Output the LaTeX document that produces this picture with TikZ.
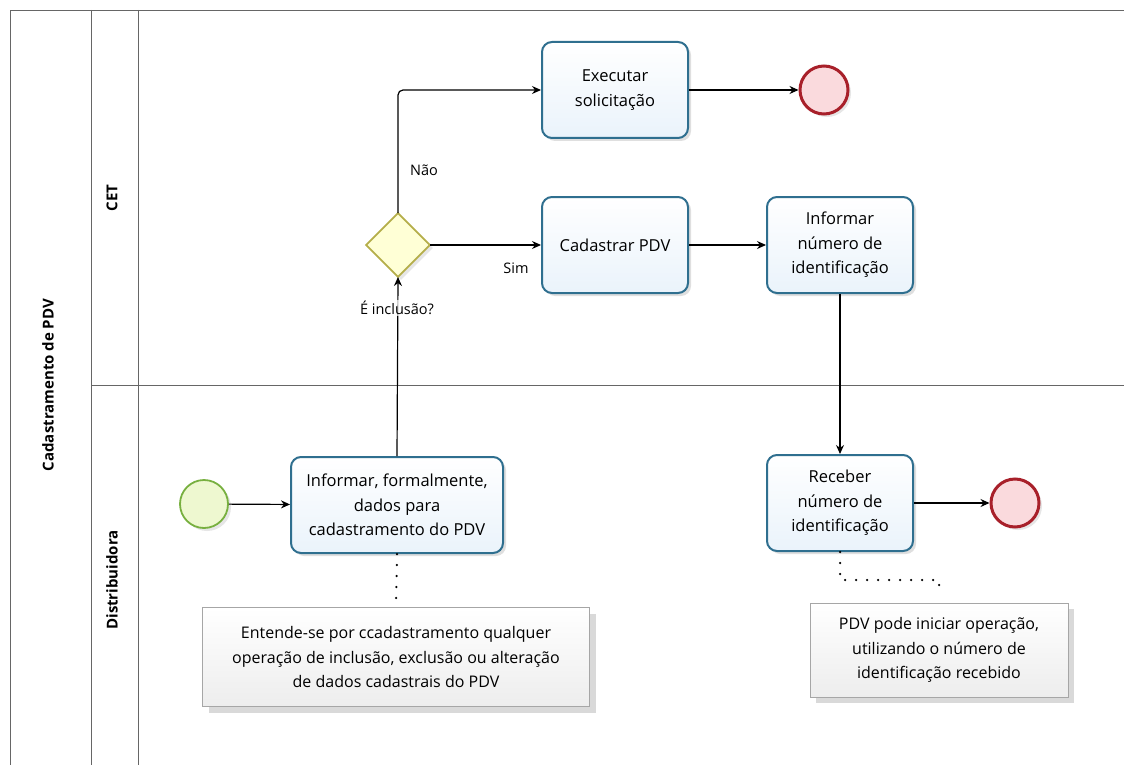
\documentclass[tikz,border=0pt]{standalone}
\usepackage{fontspec}
\setmainfont{Open Sans}
\usetikzlibrary{shadows,arrows.meta,calc}
\definecolor{taskfill}{HTML}{EAF3FB}
\definecolor{taskdraw}{HTML}{2F6F8F}
\definecolor{startfill}{HTML}{EEF8D0}
\definecolor{startdraw}{HTML}{78B040}
\definecolor{endfill}{HTML}{FADADD}
\definecolor{enddraw}{HTML}{A8202A}
\definecolor{gwfill}{HTML}{FFFFD6}
\definecolor{gwdraw}{HTML}{B5AE4A}
\definecolor{annfill}{HTML}{EDEDED}
\tikzset{
  taskbox/.style={draw=taskdraw, line width=2pt, rounded corners=10pt, top color=white, bottom color=taskfill,
    minimum width=146pt, minimum height=96pt, align=center, font=\fontsize{16.5}{24.5}\selectfont,
    drop shadow={shadow xshift=3pt, shadow yshift=-3pt, opacity=0.25}},
  startev/.style={circle, draw=startdraw, line width=1.8pt, fill=startfill, minimum size=48pt, inner sep=0pt,
    drop shadow={shadow xshift=3pt, shadow yshift=-3pt, opacity=0.2}},
  endev/.style={circle, draw=enddraw, line width=3pt, fill=endfill, minimum size=48pt, inner sep=0pt,
    drop shadow={shadow xshift=3pt, shadow yshift=-3pt, opacity=0.2}},
  gw/.style={draw=gwdraw, line width=1.8pt, fill=gwfill, inner sep=0pt},
  annbox/.style={draw=gray!70, top color=white, bottom color=annfill, align=center,
    font=\fontsize{16}{24.5}\selectfont,
    drop shadow={shadow xshift=6pt, shadow yshift=-6pt, opacity=0.3}},
  flow/.style={line width=1.2pt, -{Stealth[length=9pt,width=8pt]}},
  assoc/.style={line width=2.5pt, line cap=round, dash pattern=on 0pt off 11pt},
  lbl/.style={font=\fontsize{14.5}{16}\selectfont},
  lanelbl/.style={font=\fontsize{15}{17}\selectfont\bfseries, rotate=90}
}
\begin{document}
\begin{tikzpicture}[x=1pt,y=-1pt]
\useasboundingbox (0,0) rectangle (1124,765);
% pool and lanes
\draw[line width=0.8pt, gray!80!black] (10,765) -- (10,10) -- (1124,10);
\draw[line width=0.8pt, gray!80!black] (91,10) -- (91,765);
\draw[line width=0.8pt, gray!80!black] (138,10) -- (138,765);
\draw[line width=0.8pt, gray!80!black] (91,385) -- (1124,385);
\node[lanelbl] (pool) at (48,385) {Cadastramento de PDV};
\node[lanelbl] (cet) at (112,198) {CET};
\node[lanelbl] (dist) at (112,580) {Distribuidora};
% nodes
\node[taskbox] (exec) at (615,90) {Executar\\solicitação};
\node[taskbox] (cad) at (615,245) {Cadastrar PDV};
\node[taskbox] (infnum) at (840,245) {Informar\\número de\\identificação};
\node[taskbox, minimum width=212pt] (inf) at (397,505) {Informar, formalmente,\\dados para\\cadastramento do PDV};
\node[taskbox] (rec) at (840,503) {Receber\\número de\\identificação};
\node[startev] (start) at (204,504) {};
\node[endev] (end1) at (824,90) {};
\node[endev] (end2) at (1015,503) {};
\node[gw, shape=rectangle, minimum size=45pt, rotate=45,
  drop shadow={shadow xshift=3pt, shadow yshift=-3pt, opacity=0.2}] (gwb) at (398,245) {};
\coordinate (gwtop) at (398,213);
\coordinate (gwbot) at (398,277);
\coordinate (gwright) at (430,245);
% annotations
\node[annbox, minimum width=387pt, minimum height=99pt] (ann1) at (396,657)
  {Entende-se por ccadastramento qualquer\\operação de inclusão, exclusão ou alteração\\de dados cadastrais do PDV};
\node[annbox, minimum width=258pt, minimum height=94pt] (ann2) at (939,650)
  {PDV pode iniciar operação,\\utilizando o número de\\identificação recebido};
% flows
\draw[flow] (start) -- (inf);
\draw[flow] (inf.north) -- (gwbot);
\draw[flow] (gwright) -- (cad.west);
\draw[flow, rounded corners=5pt] (gwtop) |- (exec.west);
\draw[flow] (exec) -- (end1);
\draw[flow] (cad) -- (infnum);
\draw[flow] (infnum) -- (rec);
\draw[flow] (rec) -- (end2);
% associations
\draw[assoc] (inf.south) -- (ann1.north);
\draw[assoc] (rec.south) -- ++(0,28) -| ($(ann2.north)+(0,-12)$);
% labels
\node[lbl] (nao) at (424,170) {Não};
\node[lbl] (sim) at (516,268) {Sim};
\node[lbl, fill=white, fill opacity=0.7, text opacity=1, inner sep=1pt] (q) at (397,308) {É inclusão?};
\end{tikzpicture}
\end{document}
